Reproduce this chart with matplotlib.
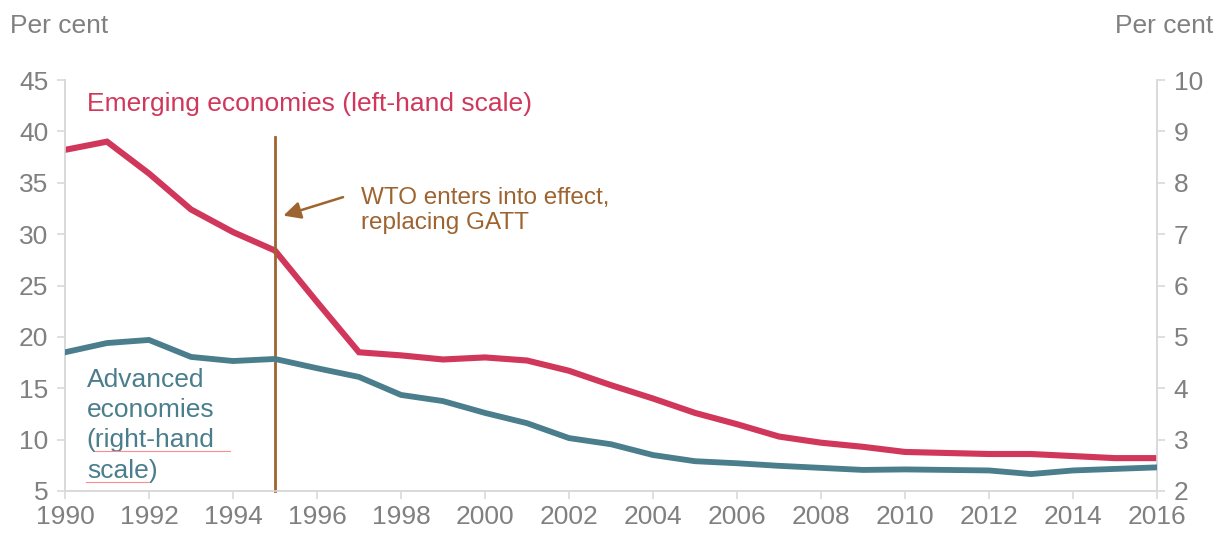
import matplotlib
matplotlib.use("Agg")
import matplotlib.pyplot as plt
from matplotlib.lines import Line2D

plt.rcParams['font.family'] = ['Liberation Sans', 'DejaVu Sans']

years = list(range(1990, 2017))
emerging = [38.2, 39.0, 35.9, 32.4, 30.2, 28.4, 23.4, 18.5, 18.2, 17.8, 18.0, 17.7,
            16.7, 15.3, 14.0, 12.6, 11.5, 10.3, 9.7, 9.3, 8.8, 8.7, 8.6, 8.6, 8.4, 8.2, 8.2]
advanced = [4.70, 4.88, 4.94, 4.61, 4.53, 4.57, 4.39, 4.22, 3.87, 3.75, 3.52, 3.32,
            3.03, 2.91, 2.70, 2.58, 2.54, 2.49, 2.45, 2.41, 2.42, 2.41, 2.40, 2.33, 2.40, 2.43, 2.46]
x_ticks = list(range(1990, 2017, 2))
left_ticks = list(range(5, 46, 5))
right_ticks = list(range(2, 11))
wto_year = 1995

RED = '#D0375B'
TEAL = '#4A7E8C'
BROWN = '#9E6430'
GREY = '#808080'
AXIS = '#D9D9D9'
FS = 19

fig = plt.figure(figsize=(12.18, 5.33), dpi=100)
ax = fig.add_axes([65/1218, 1-491/533, (1157-65)/1218, (491-80)/533])
ax2 = ax.twinx()

ax.plot(years, emerging, color=RED, lw=4.4, solid_joinstyle='miter', zorder=3)
ax2.plot(years, advanced, color=TEAL, lw=4.2, solid_joinstyle='miter', zorder=3)

ax.set_xlim(1990, 2016)
ax.set_ylim(5, 45)
ax2.set_ylim(2, 10)
ax.set_xticks(x_ticks)
ax.set_yticks(left_ticks)
ax2.set_yticks(right_ticks)

for a in (ax, ax2):
    for s in a.spines.values():
        s.set_color(AXIS)
        s.set_linewidth(1.2)
    a.spines['top'].set_visible(False)
    a.tick_params(colors=AXIS, labelcolor=GREY, labelsize=FS, length=6, width=1.2)
ax.tick_params(axis='x', pad=4)
ax.tick_params(axis='y', pad=6)
ax2.tick_params(axis='y', pad=6)

# WTO marker line
ax.plot([wto_year, wto_year], [5, 39.45], color=BROWN, lw=2, zorder=4, clip_on=False)
ax.annotate('', xy=(1995.2, 31.8), xytext=(1996.62, 33.6),
            arrowprops=dict(arrowstyle='-|>', color=BROWN, lw=1.8,
                            mutation_scale=26, shrinkA=0, shrinkB=0))
ax.text(1997.05, 34.6, 'WTO enters into effect,\nreplacing GATT', color=BROWN,
        fontsize=17.5, va='top', ha='left', linespacing=1.18)

ax.text(1990.52, 42.7, 'Emerging economies (left-hand scale)', color=RED,
        fontsize=FS, va='center', ha='left')
ax.text(1990.52, 17.0, 'Advanced\neconomies\n(right-hand\nscale)', color=TEAL,
        fontsize=FS, va='top', ha='left', linespacing=1.33)

# thin underline strokes beneath the label
fig.add_artist(Line2D([95/1218, 230/1218], [1-451/533, 1-451/533], color='#FF8C8C', lw=0.8))
fig.add_artist(Line2D([86/1218, 148/1218], [1-482/533, 1-482/533], color='#FF8C8C', lw=0.8))

fig.text(10/1218, 1-26/533, 'Per cent', color=GREY, fontsize=FS, va='center', ha='left')
fig.text(1213/1218, 1-26/533, 'Per cent', color=GREY, fontsize=FS, va='center', ha='right')

fig.savefig('out.png', dpi=100)
